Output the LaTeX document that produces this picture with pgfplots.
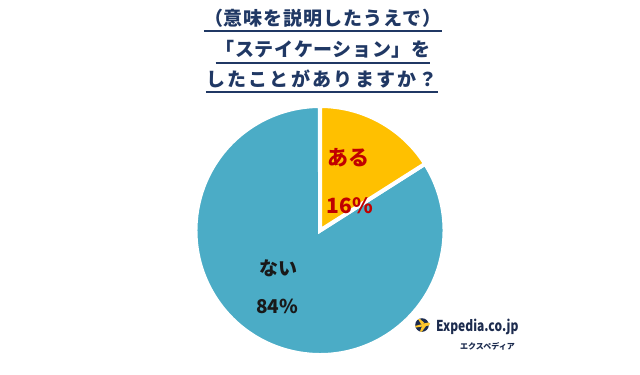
\documentclass[border=0pt]{standalone}
\usepackage{pgfplots}
\usepackage{pgfplotstable}
\usepackage{graphicx}
\pgfplotsset{compat=1.18}
\usepackage{fontspec}
\setmainfont{Noto Sans CJK JP}
\newfontfamily\titA{Noto Sans CJK JP}[LetterSpace=5]
\newfontfamily\titB{Noto Sans CJK JP}[LetterSpace=3]
\newfontfamily\titC{Noto Sans CJK JP}[LetterSpace=12]
\definecolor{pieblue}{HTML}{4BACC6}
\definecolor{pieorange}{HTML}{FFC000}
\definecolor{labred}{HTML}{C00000}
\definecolor{titlecol}{HTML}{203864}
\definecolor{logonavy}{HTML}{1C2B4E}
\definecolor{logoyellow}{HTML}{FFC72C}
\pgfplotstableread{
label value
aru 16
nai 84
}\piedata
\begin{document}
\begin{tikzpicture}
\pgfplotstablegetelem{0}{value}\of\piedata \let\vA\pgfplotsretval
\pgfplotstablegetelem{1}{value}\of\piedata \let\vB\pgfplotsretval
\pgfmathsetmacro\fA{\vA/(\vA+\vB)}
\pgfmathsetmacro\fB{\vB/(\vA+\vB)}
\pgfmathsetmacro\angA{90-360*\fA}
\pgfmathsetmacro\angB{\angA-360*\fB}
\begin{axis}[
  scale only axis, width=640bp, height=367bp,
  xmin=0, xmax=640, ymin=0, ymax=367,
  hide axis, clip=false]
\path (axis cs:0,0) rectangle (axis cs:640,367);
% pie
\filldraw[fill=pieblue, draw=white, line width=4bp]
  (axis cs:320,136.5) -- ++(\angA:124.5bp) arc[start angle=\angA, end angle=\angB, radius=124.5bp] -- cycle;
\filldraw[fill=pieorange, draw=white, line width=4bp]
  (axis cs:320,136.5) -- ++(90:124.5bp) arc[start angle=90, end angle=\angA, radius=124.5bp] -- cycle;
% slice labels
\node[text=labred, font=\fontsize{21bp}{24bp}\selectfont\bfseries, inner sep=0] at (axis cs:348,209) {ある};
\node[text=labred, font=\fontsize{21bp}{24bp}\selectfont\bfseries, inner sep=0] at (axis cs:350,161) {\vA\%};
\node[text=black!90, font=\fontsize{19bp}{22bp}\selectfont\bfseries, inner sep=0] at (axis cs:278,99) {ない};
\node[text=black!90, font=\fontsize{19bp}{22bp}\selectfont\bfseries, inner sep=0] at (axis cs:277,61) {\vB\%};
% title
\node[anchor=base, inner sep=0, text=titlecol, font=\titA\fontsize{19bp}{22bp}\selectfont\bfseries] (ta) at (axis cs:323,341.5) {（意味を説明したうえで）};
\node[anchor=base, inner sep=0, text=titlecol, font=\titB\fontsize{19bp}{22bp}\selectfont\bfseries] (tb) at (axis cs:323,310.5) {「ステイケーション」を};
\node[anchor=base, inner sep=0, text=titlecol, font=\titC\fontsize{19bp}{22bp}\selectfont\bfseries] (tc) at (axis cs:322,280) {したことがありますか？};
\draw[titlecol, line width=1.8bp] ([yshift=-5.2bp]ta.base west) -- ([yshift=-5.2bp]ta.base east);
\draw[titlecol, line width=1.8bp] ([yshift=-6.5bp]tb.base west) -- ([yshift=-6.5bp]tb.base east);
\draw[titlecol, line width=1.8bp] ([yshift=-5bp]tc.base west) -- ([yshift=-5bp]tc.base east);
% logo
\fill[logonavy] (axis cs:422,42) circle[radius=6.8bp];
\fill[logoyellow] (axis cs:415,41) -- (axis cs:428,44.5) -- (axis cs:430,43.5) -- (axis cs:429,41.5) -- (axis cs:416,39.5) -- cycle;
\fill[logoyellow] (axis cs:421,43) -- (axis cs:418,48) -- (axis cs:420,48) -- (axis cs:425,43.5) -- cycle;
\fill[logoyellow] (axis cs:422,41) -- (axis cs:420,35.5) -- (axis cs:422,35.5) -- (axis cs:426,41) -- cycle;
\node[anchor=base west, inner sep=0, text=logonavy, font=\fontsize{15bp}{18bp}\selectfont\bfseries] at (axis cs:436,35.3) {\scalebox{0.8}[1]{Expedia.co.jp}};
\node[anchor=base east, inner sep=0, text=logonavy, font=\fontsize{8bp}{9bp}\selectfont\bfseries] at (axis cs:515,18) {エクスペディア};
\end{axis}
\end{tikzpicture}
\end{document}
